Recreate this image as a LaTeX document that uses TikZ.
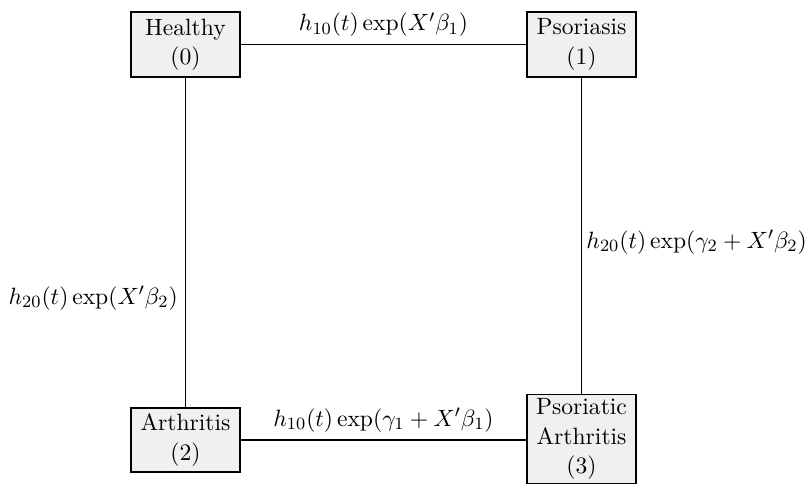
\documentclass[tikz,border=0pt]{standalone}
\begin{document}
\begin{tikzpicture}[x=0.4645pt,y=-0.4645pt,
  every node/.style={font=\fontsize{10.95}{13.6}\selectfont},
  statebox/.style={draw, line width=0.8pt, fill=gray!12, minimum width=50.6pt, minimum height=30pt, align=center, inner sep=2pt},
  conn/.style={line width=0.6pt}]
\useasboundingbox (0,0) rectangle (810,485);
\node[statebox] (h) at (185.5,44.5) {Healthy\\(0)};
\node[statebox] (p) at (581.5,44.5) {Psoriasis\\(1)};
\node[statebox] (a) at (185.5,440) {Arthritis\\(2)};
\node[statebox] (pa) at (581.5,439) {Psoriatic\\Arthritis\\(3)};
\draw[conn] (h) -- node[above] {$h_{10}(t)\exp(X'\beta_1)$} (p);
\draw[conn] (h) -- node[pos=0.67,left] {$h_{20}(t)\exp(X'\beta_2)$} (a);
\draw[conn] (p) -- node[pos=0.52,right,inner sep=2pt] {$h_{20}(t)\exp(\gamma_2+X'\beta_2)$} (pa);
\draw[conn] (a) -- node[above] {$h_{10}(t)\exp(\gamma_1+X'\beta_1)$} (a -| pa.west);
\end{tikzpicture}
\end{document}
